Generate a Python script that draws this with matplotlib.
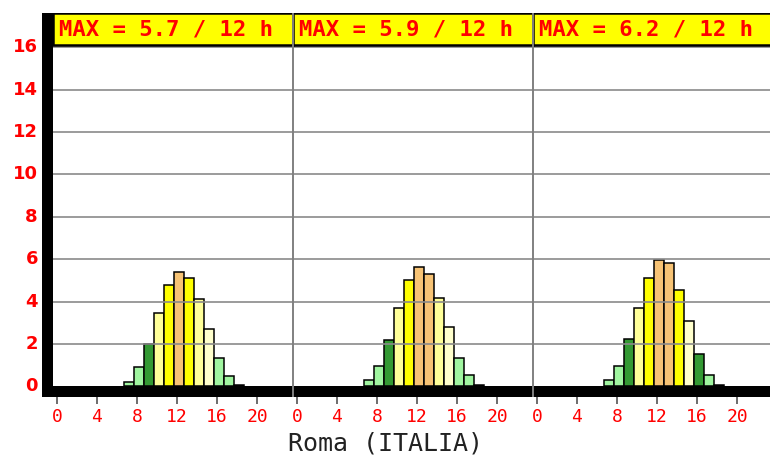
import matplotlib
matplotlib.use("Agg")
import matplotlib.pyplot as plt
from matplotlib.patches import Rectangle
import numpy as np

# ---- data ----
hours = [7, 8, 9, 10, 11, 12, 13, 14, 15, 16, 17, 18]
day1 = [0.21, 0.91, 1.99, 3.47, 4.76, 5.39, 5.11, 4.11, 2.69, 1.36, 0.50, 0.08]
day2 = [0.31, 0.98, 2.19, 3.72, 5.03, 5.62, 5.31, 4.19, 2.78, 1.36, 0.52, 0.08]
day3 = [0.31, 0.98, 2.22, 3.72, 5.12, 5.97, 5.81, 4.56, 3.09, 1.53, 0.52, 0.08]
max_values = [5.7, 5.9, 6.2]
max_hours = [12, 12, 12]
hour_ticks = [0, 4, 8, 12, 16, 20]
y_ticks = [0, 2, 4, 6, 8, 10, 12, 14, 16]
location = "Roma (ITALIA)"

LG, DG, LY, Y, O, VLY, W = "#a0f5a0", "#339933", "#ffff99", "#ffff00", "#f7c375", "#ffffcc", "#ffffff"
colors1 = [LG, LG, DG, LY, Y, O, Y, LY, VLY, LG, LG, W]
colors2 = [LG, LG, DG, LY, Y, O, O, LY, VLY, LG, LG, W]
colors3 = [LG, LG, DG, LY, Y, O, O, Y, VLY, DG, LG, W]

days = [day1, day2, day3]
day_colors = [colors1, colors2, colors3]

# ---- figure geometry ----
W_PX, H_PX = 770, 457
fig = plt.figure(figsize=(W_PX / 100, H_PX / 100), dpi=100)
ax_left, ax_right, ax_top, ax_bot = 53, 770, 12.7, 396.7
ax = fig.add_axes([ax_left / W_PX, 1 - ax_bot / H_PX,
                   (ax_right - ax_left) / W_PX, (ax_bot - ax_top) / H_PX])

PANEL = 24
x0 = -0.4
x1 = 3 * PANEL + x0 - 0.3
px_per_unit = 21.2
zero_px = 386.4
y_bot = -(ax_bot - zero_px) / px_per_unit
y_top = (zero_px - ax_top) / px_per_unit
ax.set_xlim(x0, x1)
ax.set_ylim(y_bot, y_top)
header_bottom = (zero_px - 45) / px_per_unit
blackbar_top = (zero_px - 386.0) / px_per_unit

for sp in ax.spines.values():
    sp.set_visible(False)
ax.set_facecolor("white")

# gridlines
for yv in y_ticks[1:]:
    ax.axhline(yv, color="#8a8a8a", lw=1.2, zorder=3)

# bars
offset = 0.15
for p, (vals, cols) in enumerate(zip(days, day_colors)):
    xs = [p * PANEL + h + offset for h in hours]
    ax.bar(xs, vals, width=1.0, color=cols, edgecolor="black", linewidth=1.1, zorder=2)

# header boxes
for p in range(3):
    ax.add_patch(Rectangle((p * PANEL + x0, header_bottom), PANEL, y_top - header_bottom,
                           facecolor="#ffff00", edgecolor="black", lw=1.8, zorder=4))
    ax.text(p * PANEL + x0 + 0.6, (header_bottom + y_top) / 2 - 0.03,
            f"MAX = {max_values[p]} / {max_hours[p]} h",
            color="#ff0000", fontsize=16, family="DejaVu Sans Mono", fontweight="bold",
            ha="left", va="center", zorder=5)

# bottom black bar
ax.add_patch(Rectangle((x0, y_bot), x1 - x0, blackbar_top - y_bot,
                       facecolor="black", edgecolor="none", zorder=5))

# panel separators
for p in (1, 2):
    ax.axvline(p * PANEL + x0, color="#808080", lw=1.4, zorder=6)

# ticks
xt = [p * PANEL + h for p in range(3) for h in hour_ticks]
xl = [str(h) for p in range(3) for h in hour_ticks]
ax.set_xticks(xt)
ax.set_xticklabels(xl, family="DejaVu Sans Mono", fontsize=13, color="#ff0000")
ax.tick_params(axis="x", length=5, width=1.3, color="#606060", pad=3)
ax.set_yticks([])

# y labels (outside the axes, left of black bar)
for yv in y_ticks:
    fig.text(38 / W_PX, 1 - (zero_px - yv * px_per_unit) / H_PX, str(yv),
             color="#ff0000", fontsize=13, fontweight="bold", family="DejaVu Sans",
             ha="right", va="center")

# left black bar
fig.add_artist(Rectangle((41.7 / W_PX, 1 - ax_bot / H_PX), 11.3 / W_PX,
                         (ax_bot - ax_top) / H_PX, transform=fig.transFigure,
                         facecolor="black", edgecolor="none", zorder=10))

# location label
fig.text(386 / W_PX, 1 - 444 / H_PX, location, family="DejaVu Sans Mono",
         fontsize=18, color="#222222", ha="center", va="center")

fig.savefig("out.png", dpi=100)
